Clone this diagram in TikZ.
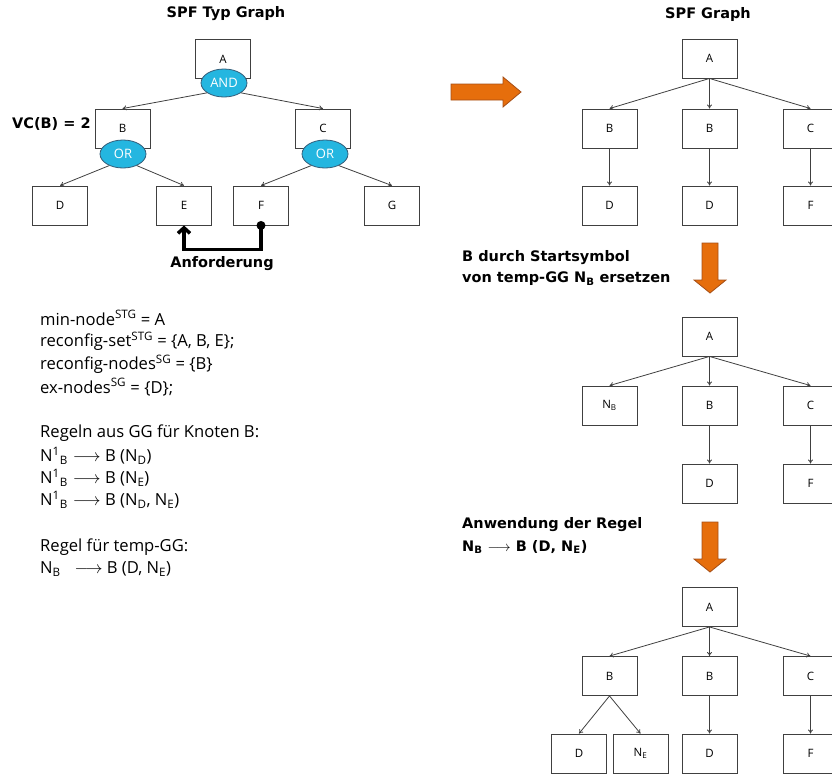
\documentclass[tikz,border=0pt]{standalone}
\usepackage{fontspec}
\setmainfont{Open Sans}
\newfontfamily\headfont{DejaVu Sans}
\usetikzlibrary{shapes.geometric, arrows.meta}

\definecolor{gatecyan}{RGB}{36,182,224}
\definecolor{gateline}{RGB}{52,92,120}
\definecolor{linegray}{RGB}{64,64,64}
\definecolor{bigorange}{RGB}{230,110,12}
\definecolor{orangeline}{RGB}{165,78,22}

\tikzset{
  box/.style={draw=linegray, line width=0.9pt, minimum width=55pt, minimum height=39pt,
    inner sep=0pt, font=\fontsize{11.5}{13}\selectfont},
  gate/.style={ellipse, draw=gateline, line width=0.8pt, fill=gatecyan, text=white,
    minimum width=46pt, minimum height=28pt, inner sep=0pt, font=\fontsize{13}{15}\selectfont},
  link/.style={-{To[length=4pt,width=5pt]}, draw=linegray, line width=0.8pt},
  head/.style={inner sep=0pt, font=\headfont\bfseries\fontsize{14.5}{17}\selectfont},
  body/.style={anchor=west, inner sep=0pt, font=\fontsize{16.6}{19}\selectfont},
  bigarrow/.style={fill=bigorange, draw=orangeline, line width=0.8pt},
  request/.style={line width=3.5pt, -{Straight Barb[length=5.5pt,width=12pt]}},
}

\begin{document}
\begin{tikzpicture}[x=1pt, y=-1pt]
  \clip (0,0) rectangle (832,774);

  % type graph with AND/OR gates
  \node[head] at (226,14) {SPF Typ Graph};
  \node[box] (A) at (223,59) {A};
  \node[box] (B) at (122.5,128.5) {B};
  \node[box] (C) at (323,128.5) {C};
  \node[box] (D) at (60,205.5) {D};
  \node[box] (E) at (184,205.5) {E};
  \node[box] (F) at (261,205.5) {F};
  \node[box] (G) at (392,205.5) {G};
  \node[gate] (andA) at (224,83) {AND};
  \node[gate] (orB) at (123,154) {OR};
  \node[gate] (orC) at (325,154) {OR};
  \node[head, anchor=west] at (12,124) {VC(B) = 2};

  \draw[link] (andA.210) -- (B.north);
  \draw[link] (andA.330) -- (C.north);
  \draw[link] (orB.220) -- (D.north);
  \draw[link] (orB.320) -- (E.north);
  \draw[link] (orC.220) -- (F.north);
  \draw[link] (orC.320) -- (G.north);

  % request F -> E
  \draw[request] (F.south) -- ++(0,24) -| (E.south);
  \fill (F.south) circle (4.5pt);
  \node[head] at (222,264) {Anforderung};

  % sets and rules
  \node[body] (l1) at (40,318) {min-node\textsuperscript{STG} = A};
  \node[body] (l2) at (40,341) {reconfig-set\textsuperscript{STG} = \{A, B, E\};};
  \node[body] (l3) at (40,364) {reconfig-nodes\textsuperscript{SG} = \{B\}};
  \node[body] (l4) at (40,387) {ex-nodes\textsuperscript{SG} = \{D\};};
  \node[body] (l5) at (40,433) {Regeln aus GG für Knoten B:};
  \node[body] (l6) at (40,456) {N\textsuperscript{1}\textsubscript{B}\hspace{5pt}$\longrightarrow$ B (N\textsubscript{D})};
  \node[body] (l7) at (40,478) {N\textsuperscript{1}\textsubscript{B}\hspace{5pt}$\longrightarrow$ B (N\textsubscript{E})};
  \node[body] (l8) at (40,500) {N\textsuperscript{1}\textsubscript{B}\hspace{5pt}$\longrightarrow$ B (N\textsubscript{D}, N\textsubscript{E})};
  \node[body] (l9) at (40,547) {Regel für temp-GG:};
  \node[body] (l10) at (40,569) {N\textsubscript{B}\hspace{14pt}$\longrightarrow$ B (D, N\textsubscript{E})};

  % big orange arrows
  \filldraw[bigarrow] (451,84) -- (503,84) -- (503,77) -- (521,92) -- (503,107) -- (503,100) -- (451,100) -- cycle;
  \foreach \y in {243,522} {
    \filldraw[bigarrow] (702,\y) -- (718,\y) -- (718,\y+37) -- (726,\y+37) -- (710,\y+50)
      -- (694,\y+37) -- (702,\y+37) -- cycle;
  }

  % instance graph
  \node[head] at (708,14) {SPF Graph};
  \node[box] (A1) at (709.5,58.5) {A};
  \node[box] (B11) at (609.5,128.5) {B};
  \node[box] (B12) at (709.5,128.5) {B};
  \node[box] (C1) at (810.5,128.5) {C};
  \node[box] (D11) at (609.5,205.5) {D};
  \node[box] (D12) at (709.5,205.5) {D};
  \node[box] (F1) at (810.5,205.5) {F};
  \foreach \n in {B11,B12,C1} \draw[link] (A1.south) -- (\n.north);
  \draw[link] (B11) -- (D11);
  \draw[link] (B12) -- (D12);
  \draw[link] (C1) -- (F1);

  % step 1: replace B by start symbol
  \node[head, anchor=west] at (462,258) {B durch Startsymbol};
  \node[head, anchor=west] at (462,279) {von temp-GG N\textsubscript{B} ersetzen};
  \node[box] (A2) at (709.5,336.5) {A};
  \node[box] (NB) at (609.5,405.5) {N\textsubscript{B}};
  \node[box] (B2) at (709.5,405.5) {B};
  \node[box] (C2) at (810.5,405.5) {C};
  \node[box] (D2) at (709.5,483.5) {D};
  \node[box] (F2) at (810.5,483.5) {F};
  \foreach \n in {NB,B2,C2} \draw[link] (A2.south) -- (\n.north);
  \draw[link] (B2) -- (D2);
  \draw[link] (C2) -- (F2);

  % step 2: apply rule
  \node[head, anchor=west] at (462,525) {Anwendung der Regel};
  \node[head, anchor=west] at (462,547) {N\textsubscript{B} $\longrightarrow$ B (D, N\textsubscript{E})};
  \node[box] (A3) at (709.5,607) {A};
  \node[box] (B31) at (609.5,676) {B};
  \node[box] (B32) at (709.5,676) {B};
  \node[box] (C3) at (810.5,676) {C};
  \node[box] (D31) at (579,753.5) {D};
  \node[box] (NE) at (640.5,753.5) {N\textsubscript{E}};
  \node[box] (D32) at (709.5,753.5) {D};
  \node[box] (F3) at (810.5,753.5) {F};
  \foreach \n in {B31,B32,C3} \draw[link] (A3.south) -- (\n.north);
  \draw[link] (B31.south) -- (D31.north);
  \draw[link] (B31.south) -- (NE.north);
  \draw[link] (B32) -- (D32);
  \draw[link] (C3) -- (F3);
\end{tikzpicture}
\end{document}
